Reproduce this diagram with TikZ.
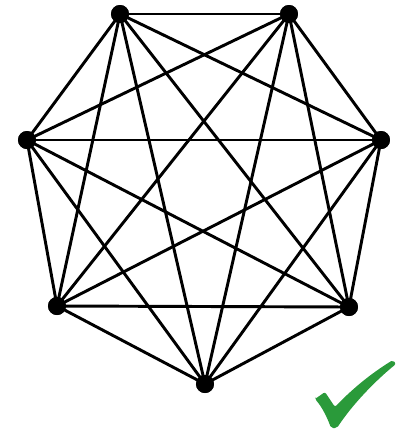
\documentclass[tikz,border=0pt]{standalone}
\definecolor{checkgreen}{HTML}{2A9A3A}
\tikzset{
  vtx/.style={circle,fill=black,inner sep=0pt,minimum size=13.5pt},
  edge/.style={line width=2.2pt,black}
}
\begin{document}
\begin{tikzpicture}[x=0.75pt,y=-0.75pt]
\useasboundingbox (0,0) rectangle (401,437);
\node[vtx] (v1) at (120,14) {};
\node[vtx] (v2) at (289,14) {};
\node[vtx] (v3) at (381,140) {};
\node[vtx] (v4) at (349,307) {};
\node[vtx] (v5) at (205,384) {};
\node[vtx] (v6) at (57,306) {};
\node[vtx] (v7) at (27,140) {};
\foreach \a/\b in {v1/v2,v1/v3,v1/v4,v1/v5,v1/v6,v1/v7,
                   v2/v3,v2/v4,v2/v5,v2/v6,v2/v7,
                   v3/v4,v3/v5,v3/v6,v3/v7,
                   v4/v5,v4/v6,v4/v7,
                   v5/v6,v5/v7,
                   v6/v7}
  \draw[edge] (\a.center) -- (\b.center);
\foreach \v in {v1,v2,v3,v4,v5,v6,v7} \node[vtx] at (\v) {};
\fill[checkgreen,rounded corners=1.5pt] (315,399) -- (325,392) -- (335,407)
  .. controls (355,386) and (375,371) .. (393,360) -- (396,364)
  .. controls (375,381) and (352,405) .. (337,428) -- (331,428)
  .. controls (327,417) and (322,407) .. cycle;
\end{tikzpicture}
\end{document}
